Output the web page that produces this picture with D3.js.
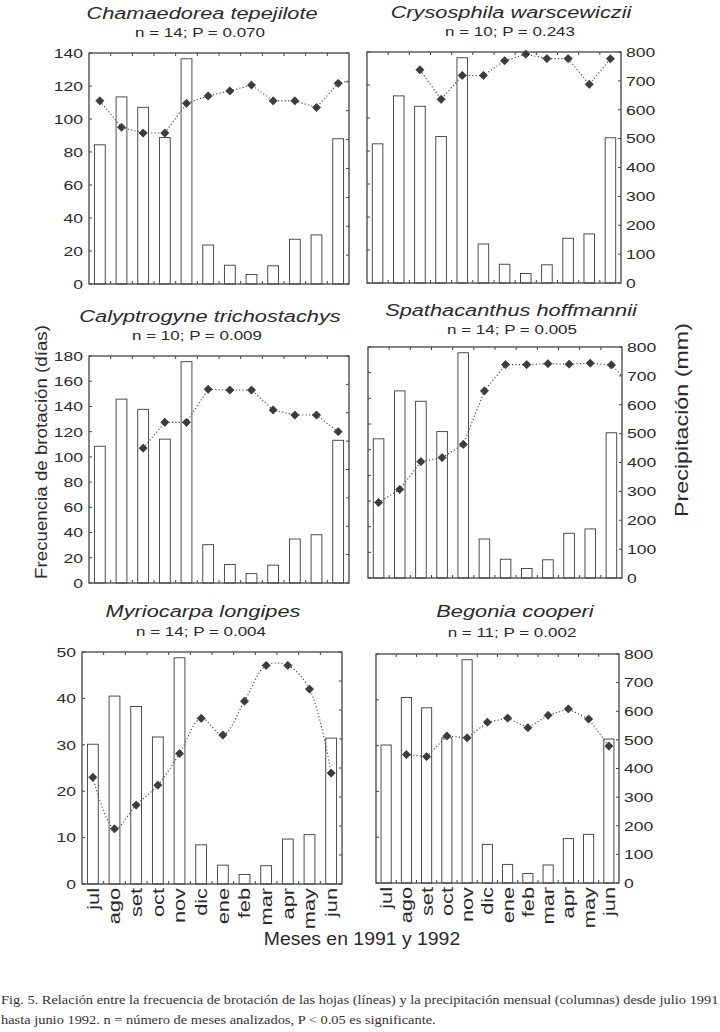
<!DOCTYPE html>
<html><head><meta charset="utf-8">
<script src="https://cdnjs.cloudflare.com/ajax/libs/d3/7.8.5/d3.min.js"></script>
<style>
html,body{margin:0;padding:0;background:#fff;}
svg{display:block;}
</style></head>
<body>
<svg id="chart" width="720" height="1032"></svg>
<script>
// ---------------- DATA ----------------
const months = ["jul","ago","set","oct","nov","dic","ene","feb","mar","apr","may","jun"];
// monthly precipitation (mm), same columns in every panel
const precipitation = [482, 648, 612, 507, 780, 135, 65, 33, 63, 155, 170, 503];
const precipTicks = [0,100,200,300,400,500,600,700,800];

const speciesNames = ["Chamaedorea tepejilote","Crysosphila warscewiczii","Calyptrogyne trichostachys",
                      "Spathacanthus hoffmannii","Myriocarpa longipes","Begonia cooperi"];
const statsText = ["n = 14; P = 0.070","n = 10; P = 0.243","n = 10; P = 0.009",
                   "n = 14; P = 0.005","n = 14; P = 0.004","n = 11; P = 0.002"];

// leaf-sprouting frequency (days), jul 1991 .. jun 1992, plus jul 1992 (partly visible)
const chamaedorea   = [111, 95, 91.5, 91.5, 109.5, 114, 117, 120.6, 111, 111, 107, 121.6, 124.8];
const crysosphila   = [null, null, 129.2, 111.3, 125.8, 125.8, 134.7, 138.7, 136, 136, 120.4, 135.9, null];
const calyptrogyne  = [null, null, 106.9, 127.4, 127.4, 153.6, 153, 153, 137.2, 133.2, 133.2, 120, null];
const spathacanthus = [58.8, 69, 90.7, 93.8, 104.1, 145.8, 166.3, 166.3, 167, 166.6, 167.4, 166, 149];
const myriocarpa    = [23, 11.9, 17, 21.3, 28.1, 35.7, 32.1, 39.4, 47.1, 47.1, 42, 23.9, null];
const begonia       = [null, 28.05, 27.6, 32.1, 31.7, 35.1, 36, 33.9, 36.6, 38, 35.8, 29.9, null];

const ticksRow1 = [0,20,40,60,80,100,120,140];
const ticksRow2 = [0,20,40,60,80,100,120,140,160,180];
const ticksRow3 = [0,10,20,30,40,50];

const yTitle = "Frecuencia de brotación (días)";
const y2Title = "Precipitación (mm)";
const xTitle = "Meses en 1991 y 1992";
const caption1 = "Fig. 5. Relación entre la frecuencia de brotación de las hojas (líneas) y la precipitación mensual (columnas) desde julio 1991";
const caption2 = "hasta junio 1992. n = número de meses analizados, P < 0.05 es significante.";

// ---------------- LAYOUT ----------------
const series = [chamaedorea, crysosphila, calyptrogyne, spathacanthus, myriocarpa, begonia];
const leftTicks = [ticksRow1, ticksRow1, ticksRow2, ticksRow2, ticksRow3, ticksRow3];
const panels = [
  {x0:89,  x1:349, y0:53,  y1:284, side:"left",  tx:202, ty:18.5,  sx:200, sy:37,    months:false, smooth:false},
  {x0:367, x1:621, y0:52,  y1:283, side:"right", tx:511, ty:17.5,  sx:510, sy:36,    months:false, smooth:false},
  {x0:89,  x1:349, y0:356, y1:583, side:"left",  tx:210, ty:321.5, sx:197, sy:340,   months:false, smooth:false},
  {x0:368, x1:622, y0:347, y1:578, side:"right", tx:511, ty:315.5, sx:512, sy:334,   months:false, smooth:false},
  {x0:82,  x1:342, y0:652, y1:884, side:"left",  tx:203, ty:616.5, sx:201, sy:636,   months:true,  smooth:true},
  {x0:376, x1:619, y0:654, y1:883, side:"right", tx:515, ty:616.5, sx:512, sy:636.5, months:true,  smooth:false}
];

const svg = d3.select("#chart");
const SANS = "'Liberation Sans', Arial, Helvetica, sans-serif";
const INK = "#2a2a2a";

function stext(g, str, x, y, o) {
  const t = g.append("text")
    .attr("transform", `translate(${x},${y})` + (o.rotate ? ` rotate(${o.rotate})` : "") + ` scale(${o.k || 1},1)`)
    .attr("text-anchor", o.anchor || "start")
    .style("font-family", o.family || SANS)
    .style("font-size", o.size + "px")
    .style("font-style", o.italic ? "italic" : "normal")
    .style("fill", o.fill || INK)
    .text(str);
  if (o.dy) t.attr("dy", o.dy);
  return t;
}

const defs = svg.append("defs");

panels.forEach((p, i) => {
  const g = svg.append("g");
  const x = d3.scaleBand().domain(months).range([p.x0, p.x1]).paddingInner(0).paddingOuter(0);
  const step = x.step();
  const yP = d3.scaleLinear().domain([0, 800]).range([p.y1, p.y0]);
  const lt = leftTicks[i];
  const yL = d3.scaleLinear().domain([0, lt[lt.length - 1]]).range([p.y1, p.y0]);

  // bars (precipitation)
  const bw = step * 0.5;
  g.selectAll("rect.bar").data(precipitation).join("rect")
    .attr("class", "bar")
    .attr("x", (d, j) => x(months[j]) + (step - bw) / 2)
    .attr("y", d => yP(d))
    .attr("width", bw)
    .attr("height", d => p.y1 - yP(d))
    .attr("fill", "#fff")
    .attr("stroke", "#3a3a3a")
    .attr("stroke-width", 0.9);

  // frame
  g.append("rect").attr("x", p.x0).attr("y", p.y0).attr("width", p.x1 - p.x0).attr("height", p.y1 - p.y0)
    .attr("fill", "none").attr("stroke", "#444").attr("stroke-width", 1.3);

  // inner ticks: month boundaries top & bottom
  const bounds = months.slice(1).map(m => x(m));
  g.selectAll("line.tt").data(bounds).join("line")
    .attr("x1", d => d).attr("x2", d => d).attr("y1", p.y0).attr("y2", p.y0 + 3)
    .attr("stroke", "#444").attr("stroke-width", 1);
  g.selectAll("line.tb").data(bounds).join("line")
    .attr("x1", d => d).attr("x2", d => d).attr("y1", p.y1).attr("y2", p.y1 - 3)
    .attr("stroke", "#444").attr("stroke-width", 1);
  // left & right inner ticks
  g.selectAll("line.tl").data(lt).join("line")
    .attr("x1", p.x0).attr("x2", p.x0 + 3).attr("y1", d => yL(d)).attr("y2", d => yL(d))
    .attr("stroke", "#444").attr("stroke-width", 1);
  g.selectAll("line.tr").data(precipTicks).join("line")
    .attr("x1", p.x1).attr("x2", p.x1 - 3).attr("y1", d => yP(d)).attr("y2", d => yP(d))
    .attr("stroke", "#444").attr("stroke-width", 1);

  // tick labels
  if (p.side === "left") {
    lt.forEach(v => stext(g, String(v), p.x0 - 6, yL(v), {size: 13.5, k: 1.3, anchor: "end", dy: "0.36em"}));
  } else {
    precipTicks.forEach(v => stext(g, String(v), p.x1 + 5, yP(v), {size: 13.5, k: 1.3, anchor: "start", dy: "0.36em"}));
  }

  // sprouting line
  const clipId = "clip" + i;
  defs.append("clipPath").attr("id", clipId).append("rect")
    .attr("x", p.x0).attr("y", p.y0 - 6).attr("width", p.x1 - p.x0).attr("height", p.y1 - p.y0 + 6);
  const pts = series[i].map((v, j) => ({v, cx: x(months[0]) + step * (j + 0.5), j}));
  const line = d3.line()
    .defined(d => d.v !== null)
    .x(d => d.cx).y(d => yL(d.v))
    .curve(p.smooth ? d3.curveCatmullRom.alpha(0.5) : d3.curveLinear);
  g.append("path").attr("d", line(pts)).attr("clip-path", `url(#${clipId})`)
    .attr("fill", "none").attr("stroke", "#444").attr("stroke-width", 1.1)
    .attr("stroke-dasharray", "1.2,2.2");
  const diamond = d3.symbol().type(d3.symbolSquare).size(34);
  g.selectAll("path.pt").data(pts.filter(d => d.v !== null && d.j < months.length)).join("path")
    .attr("class", "pt")
    .attr("d", diamond)
    .attr("transform", d => `translate(${d.cx},${yL(d.v)}) rotate(45)`)
    .attr("fill", "#3c3c3c").attr("stroke", "#2a2a2a").attr("stroke-width", 0.6);

  // titles
  stext(g, speciesNames[i], p.tx, p.ty, {size: 16.5, k: 1.32, anchor: "middle", italic: true});
  stext(g, statsText[i], p.sx, p.sy, {size: 12.5, k: 1.36, anchor: "middle"});

  // month labels
  if (p.months) {
    months.forEach(m => stext(g, m, x(m) + step / 2, p.y1 + 4, {size: 16.5, k: 1.32, anchor: "end", rotate: -90, dy: "0.36em"}));
  }
});

// axis titles
stext(svg, yTitle, 46.5, 452, {size: 16, k: 1.17, anchor: "middle", rotate: -90});
stext(svg, y2Title, 688, 420, {size: 17.5, k: 1.33, anchor: "middle", rotate: -90});
stext(svg, xTitle, 362, 945, {size: 18.5, k: 1.05, anchor: "middle"});

// caption (serif, condensed to fit the page width)
const capFont = "'Liberation Serif', 'Times New Roman', serif";
const c1 = stext(svg, caption1, 1, 1004, {size: 13, k: 1, family: capFont, fill: "#333"});
const w1 = c1.node().getComputedTextLength();
const kc = 718 / w1;
c1.attr("transform", `translate(1,1004) scale(${kc},1)`);
stext(svg, caption2, 1, 1024, {size: 13, k: kc, family: capFont, fill: "#333"});
</script>
</body></html>
